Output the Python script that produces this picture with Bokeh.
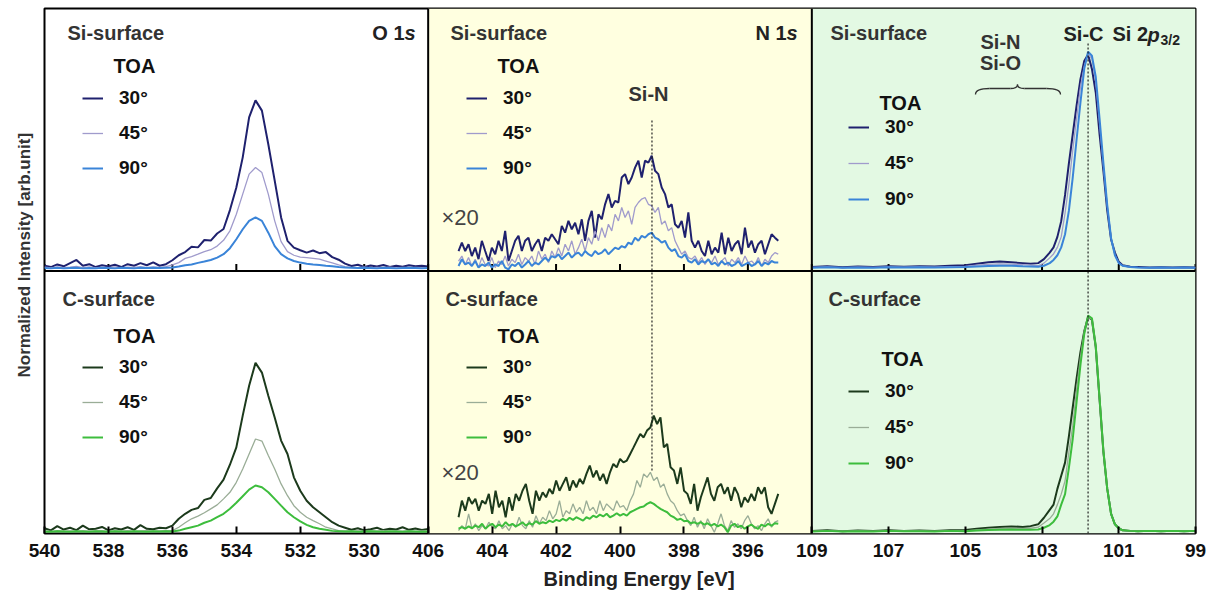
import math
import numpy as np
from bokeh.plotting import figure
from bokeh.models import (Range1d, FixedTicker, Span, BoxAnnotation, Label,
                          Legend, LegendItem, Title)
from bokeh.embed import file_html
from bokeh.resources import INLINE

# ---------------------------------------------------------------- data
TOA = ["30°", "45°", "90°"]

O1S_LIMITS = (540.0, 528.0)      # axis limits of each column (eV)
N1S_LIMITS = (406.0, 394.0)
SI2P_LIMITS = (109.0, 99.0)

O1S_SPAN = (540.0, 528.0)        # first / last measured energy
N1S_SPAN = (405.05, 395.05)

SI2P_E = [109.0, 108.6, 108.2, 107.8, 107.4, 107.0, 106.6, 106.2, 105.8, 105.4,
          105.0, 104.7, 104.4, 104.1, 103.8, 103.5, 103.3, 103.1, 102.95, 102.8,
          102.7, 102.6, 102.5, 102.4, 102.3, 102.2, 102.1, 102.0, 101.9, 101.8,
          101.7, 101.6, 101.5, 101.4, 101.3, 101.2, 101.1, 101.0, 100.9, 100.7,
          100.5, 100.2, 99.9, 99.6, 99.3, 99.0]

# O 1s, Si-surface
o1s_si_30 = [0.020, 0.015, 0.025, 0.018, 0.030, 0.042, 0.020, 0.026, 0.015, 0.022,
             0.017, 0.024, 0.015, 0.026, 0.020, 0.030, 0.022, 0.033, 0.020, 0.026,
             0.041, 0.060, 0.072, 0.092, 0.090, 0.118, 0.116, 0.143, 0.160, 0.232,
             0.318, 0.433, 0.585, 0.650, 0.611, 0.483, 0.344, 0.204, 0.115, 0.089,
             0.079, 0.070, 0.078, 0.068, 0.072, 0.053, 0.043, 0.028, 0.019, 0.024,
             0.015, 0.021, 0.017, 0.023, 0.015, 0.020, 0.016, 0.022, 0.018, 0.020, 0.017]
o1s_si_45 = [0.015, 0.012, 0.016, 0.013, 0.015, 0.018, 0.013, 0.016, 0.012, 0.015,
             0.013, 0.016, 0.012, 0.015, 0.014, 0.017, 0.013, 0.016, 0.014, 0.017,
             0.023, 0.032, 0.048, 0.055, 0.064, 0.074, 0.081, 0.095, 0.117, 0.153,
             0.216, 0.293, 0.369, 0.394, 0.375, 0.293, 0.191, 0.112, 0.074, 0.060,
             0.053, 0.051, 0.048, 0.045, 0.038, 0.031, 0.023, 0.017, 0.014,
             0.013, 0.015, 0.012, 0.014, 0.013, 0.015, 0.012, 0.014, 0.013, 0.014, 0.013, 0.012]
o1s_si_90 = [0.011, 0.010, 0.012, 0.010, 0.011, 0.012, 0.010, 0.011, 0.010, 0.012,
             0.011, 0.010, 0.012, 0.011, 0.010, 0.012, 0.011, 0.012, 0.011, 0.012,
             0.013, 0.017, 0.022, 0.025, 0.031, 0.036, 0.042, 0.051, 0.064, 0.087,
             0.121, 0.159, 0.191, 0.204, 0.191, 0.146, 0.095, 0.064, 0.048, 0.038,
             0.032, 0.028, 0.025, 0.023, 0.020, 0.018, 0.015, 0.013,
             0.012, 0.011, 0.012, 0.011, 0.010, 0.012, 0.011, 0.010, 0.011, 0.012, 0.011, 0.010, 0.011]

# O 1s, C-surface
o1s_c_30 = [0.020, 0.012, 0.028, 0.015, 0.022, 0.013, 0.030, 0.016, 0.018, 0.025,
            0.012, 0.020, 0.015, 0.024, 0.014, 0.032, 0.018, 0.016, 0.022, 0.020,
            0.030, 0.056, 0.075, 0.090, 0.097, 0.128, 0.135, 0.172, 0.205, 0.262,
            0.328, 0.449, 0.563, 0.650, 0.613, 0.525, 0.442, 0.354, 0.303, 0.214,
            0.163, 0.125, 0.100, 0.081, 0.062, 0.043, 0.030, 0.022,
            0.014, 0.020, 0.012, 0.016, 0.022, 0.013, 0.018, 0.015, 0.024, 0.014, 0.019, 0.013, 0.017]
o1s_c_45 = [0.010, 0.008, 0.011, 0.009, 0.010, 0.008, 0.011, 0.009, 0.010, 0.011,
            0.008, 0.010, 0.009, 0.011, 0.008, 0.010, 0.011, 0.009, 0.010, 0.011,
            0.011, 0.024, 0.041, 0.056, 0.066, 0.079, 0.094, 0.109, 0.132, 0.157,
            0.195, 0.246, 0.303, 0.360, 0.352, 0.297, 0.246, 0.189, 0.144, 0.106,
            0.081, 0.062, 0.049, 0.037, 0.024, 0.018, 0.011, 0.010,
            0.009, 0.010, 0.008, 0.010, 0.009, 0.011, 0.008, 0.010, 0.009, 0.010, 0.008, 0.010, 0.009]
o1s_c_90 = [0.008, 0.007, 0.009, 0.008, 0.007, 0.009, 0.008, 0.007, 0.009, 0.008,
            0.007, 0.009, 0.008, 0.007, 0.009, 0.008, 0.007, 0.009, 0.008, 0.009,
            0.008, 0.011, 0.018, 0.024, 0.030, 0.041, 0.049, 0.062, 0.075, 0.094,
            0.117, 0.142, 0.167, 0.183, 0.176, 0.157, 0.132, 0.106, 0.081, 0.062,
            0.046, 0.033, 0.024, 0.018, 0.014, 0.010,
            0.009, 0.008, 0.009, 0.007, 0.008, 0.009, 0.008, 0.007, 0.009, 0.008, 0.007, 0.009, 0.008, 0.007, 0.008]

# N 1s (x20), Si-surface
n1s_si_30 = [0.076, 0.108, 0.076, 0.102, 0.057, 0.089, 0.045, 0.115, 0.076, 0.038,
             0.089, 0.064, 0.115, 0.076, 0.153, 0.038, 0.076, 0.115, 0.134, 0.076,
             0.115, 0.127, 0.076, 0.102, 0.121, 0.076, 0.127, 0.115, 0.140, 0.121,
             0.102, 0.172, 0.146, 0.191, 0.159, 0.184, 0.140, 0.197, 0.115, 0.191,
             0.229, 0.127, 0.216, 0.197, 0.254, 0.293, 0.242, 0.267, 0.261, 0.356,
             0.369, 0.331, 0.356, 0.394, 0.420, 0.356, 0.420, 0.413, 0.439, 0.382,
             0.369, 0.318, 0.293, 0.242, 0.254, 0.178, 0.165, 0.191, 0.127, 0.223,
             0.115, 0.089, 0.115, 0.076, 0.057, 0.115, 0.064, 0.089, 0.070, 0.146,
             0.064, 0.127, 0.076, 0.102, 0.115, 0.064, 0.165, 0.089, 0.115, 0.070,
             0.102, 0.115, 0.064, 0.102, 0.140, 0.127, 0.115]
n1s_si_45 = [0.038, 0.057, 0.025, 0.051, 0.019, 0.045, 0.013, 0.051, 0.025, 0.019,
             0.051, 0.013, 0.038, 0.025, 0.057, 0.019, 0.045, 0.032, 0.064, 0.025,
             0.051, 0.038, 0.057, 0.025, 0.076, 0.045, 0.064, 0.032, 0.076, 0.051,
             0.089, 0.057, 0.102, 0.076, 0.115, 0.064, 0.089, 0.121, 0.076, 0.127,
             0.102, 0.153, 0.115, 0.165, 0.127, 0.178, 0.153, 0.216, 0.191, 0.242,
             0.204, 0.229, 0.178, 0.242, 0.261, 0.274, 0.280, 0.254, 0.248, 0.223,
             0.242, 0.178, 0.191, 0.153, 0.165, 0.115, 0.089, 0.064, 0.076, 0.051,
             0.045, 0.057, 0.032, 0.051, 0.025, 0.045, 0.032, 0.057, 0.025, 0.038,
             0.051, 0.019, 0.045, 0.032, 0.051, 0.025, 0.057, 0.032, 0.038, 0.025,
             0.051, 0.019, 0.045, 0.032, 0.057, 0.070, 0.064]
n1s_si_90 = [0.019, 0.045, 0.025, 0.032, 0.019, 0.038, 0.013, 0.025, 0.019, 0.032,
             0.013, 0.025, 0.019, 0.038, 0.013, 0.006, 0.025, 0.019, 0.032, 0.013,
             0.025, 0.038, 0.019, 0.032, 0.025, 0.038, 0.051, 0.038, 0.057, 0.051,
             0.064, 0.045, 0.057, 0.070, 0.051, 0.064, 0.070, 0.057, 0.076, 0.064,
             0.057, 0.076, 0.064, 0.070, 0.083, 0.064, 0.076, 0.089, 0.083, 0.095,
             0.089, 0.108, 0.102, 0.127, 0.115, 0.134, 0.127, 0.140, 0.146, 0.127,
             0.121, 0.108, 0.115, 0.089, 0.076, 0.083, 0.057, 0.051, 0.064, 0.038,
             0.032, 0.045, 0.025, 0.038, 0.032, 0.045, 0.025, 0.032, 0.019, 0.038,
             0.025, 0.032, 0.019, 0.025, 0.038, 0.019, 0.025, 0.032, 0.019, 0.025,
             0.038, 0.019, 0.032, 0.025, 0.038, 0.032, 0.032]

# N 1s (x20), C-surface
n1s_c_30 = [0.062, 0.125, 0.087, 0.138, 0.113, 0.132, 0.087, 0.125, 0.113, 0.151,
            0.075, 0.163, 0.100, 0.125, 0.062, 0.138, 0.087, 0.151, 0.125, 0.163,
            0.189, 0.125, 0.075, 0.163, 0.125, 0.157, 0.138, 0.170, 0.151, 0.202,
            0.163, 0.189, 0.214, 0.163, 0.202, 0.176, 0.208, 0.189, 0.227, 0.259,
            0.214, 0.240, 0.202, 0.227, 0.189, 0.233, 0.265, 0.252, 0.284, 0.271,
            0.278, 0.303, 0.328, 0.354, 0.379, 0.366, 0.392, 0.404, 0.449, 0.417,
            0.442, 0.328, 0.341, 0.252, 0.240, 0.189, 0.252, 0.163, 0.151, 0.113,
            0.189, 0.087, 0.138, 0.176, 0.214, 0.151, 0.125, 0.176, 0.189, 0.151,
            0.176, 0.125, 0.176, 0.151, 0.100, 0.138, 0.119, 0.151, 0.125, 0.176,
            0.151, 0.176, 0.100, 0.075, 0.113, 0.151]
n1s_c_45 = [0.011, 0.030, 0.018, 0.075, 0.018, 0.037, 0.011, 0.030, 0.018, 0.043,
            0.024, 0.018, 0.049, 0.018, 0.030, 0.011, 0.037, 0.024, 0.062, 0.030,
            0.018, 0.049, 0.024, 0.068, 0.037, 0.062, 0.049, 0.087, 0.056, 0.075,
            0.125, 0.062, 0.087, 0.075, 0.113, 0.081, 0.100, 0.075, 0.125, 0.087,
            0.100, 0.075, 0.125, 0.087, 0.113, 0.100, 0.087, 0.125, 0.100, 0.106,
            0.087, 0.125, 0.151, 0.202, 0.176, 0.227, 0.214, 0.233, 0.202, 0.214,
            0.176, 0.189, 0.151, 0.125, 0.113, 0.087, 0.068, 0.075, 0.049, 0.030,
            0.062, 0.024, 0.049, 0.018, 0.056, 0.030, 0.005, 0.037, 0.075, 0.030,
            0.011, 0.049, 0.024, 0.037, 0.018, 0.049, 0.068, 0.037, 0.018, 0.030,
            0.011, 0.037, 0.056, 0.024, 0.043, 0.049]
n1s_c_90 = [0.018, 0.024, 0.018, 0.027, 0.020, 0.030, 0.024, 0.037, 0.018, 0.030,
            0.037, 0.024, 0.034, 0.027, 0.043, 0.030, 0.037, 0.027, 0.034, 0.043,
            0.030, 0.039, 0.034, 0.047, 0.037, 0.043, 0.039, 0.049, 0.043, 0.052,
            0.047, 0.056, 0.049, 0.060, 0.052, 0.062, 0.056, 0.049, 0.062, 0.056,
            0.068, 0.062, 0.072, 0.065, 0.075, 0.062, 0.068, 0.077, 0.068, 0.075,
            0.068, 0.081, 0.087, 0.094, 0.100, 0.103, 0.113, 0.119, 0.113, 0.103,
            0.094, 0.087, 0.081, 0.068, 0.062, 0.052, 0.056, 0.047, 0.049, 0.039,
            0.043, 0.037, 0.043, 0.034, 0.039, 0.030, 0.037, 0.027, 0.034, 0.024,
            0.005, 0.030, 0.037, 0.024, 0.030, 0.018, 0.027, 0.034, 0.024, 0.018,
            0.034, 0.027, 0.037, 0.030, 0.039, 0.037]

# Si 2p3/2, Si-surface
si2p_si_30 = [0.015, 0.018, 0.014, 0.017, 0.015, 0.018, 0.016, 0.018, 0.017, 0.020,
              0.022, 0.028, 0.033, 0.036, 0.033, 0.030, 0.028, 0.030, 0.045, 0.070,
              0.090, 0.130, 0.190, 0.290, 0.410, 0.520, 0.630, 0.730, 0.800, 0.825,
              0.770, 0.680, 0.520, 0.380, 0.230, 0.120, 0.070, 0.035, 0.022, 0.016,
              0.015, 0.013, 0.014, 0.013, 0.014, 0.013]
si2p_si_45 = [0.014, 0.016, 0.013, 0.015, 0.014, 0.016, 0.015, 0.016, 0.015, 0.017,
              0.018, 0.022, 0.025, 0.027, 0.026, 0.024, 0.022, 0.020, 0.030, 0.050,
              0.065, 0.090, 0.130, 0.220, 0.330, 0.460, 0.580, 0.700, 0.780, 0.825,
              0.810, 0.720, 0.560, 0.400, 0.250, 0.125, 0.060, 0.030, 0.020, 0.015,
              0.013, 0.013, 0.012, 0.013, 0.012, 0.013]
si2p_si_90 = [0.012, 0.014, 0.012, 0.013, 0.012, 0.014, 0.013, 0.014, 0.013, 0.014,
              0.015, 0.017, 0.019, 0.020, 0.020, 0.018, 0.017, 0.016, 0.020, 0.030,
              0.042, 0.060, 0.090, 0.140, 0.230, 0.356, 0.500, 0.640, 0.770, 0.835,
              0.820, 0.740, 0.580, 0.410, 0.250, 0.125, 0.060, 0.030, 0.020, 0.015,
              0.013, 0.012, 0.013, 0.012, 0.013, 0.012]

# Si 2p3/2, C-surface
si2p_c_30 = [0.010, 0.012, 0.009, 0.011, 0.010, 0.012, 0.010, 0.011, 0.010, 0.012,
             0.013, 0.018, 0.022, 0.025, 0.027, 0.025, 0.028, 0.035, 0.060, 0.090,
             0.110, 0.170, 0.220, 0.270, 0.370, 0.480, 0.590, 0.690, 0.770, 0.825,
             0.815, 0.710, 0.510, 0.310, 0.170, 0.075, 0.035, 0.020, 0.012, 0.010,
             0.009, 0.010, 0.009, 0.010, 0.009, 0.010]
si2p_c_45 = [0.009, 0.011, 0.009, 0.010, 0.009, 0.011, 0.010, 0.010, 0.009, 0.011,
             0.010, 0.014, 0.017, 0.019, 0.020, 0.019, 0.020, 0.024, 0.040, 0.057,
             0.075, 0.110, 0.150, 0.200, 0.310, 0.410, 0.550, 0.670, 0.770, 0.825,
             0.815, 0.710, 0.510, 0.310, 0.170, 0.075, 0.035, 0.020, 0.012, 0.010,
             0.009, 0.010, 0.009, 0.010, 0.009, 0.010]
si2p_c_90 = [0.008, 0.010, 0.008, 0.009, 0.008, 0.010, 0.009, 0.009, 0.008, 0.010,
             0.009, 0.011, 0.013, 0.014, 0.015, 0.014, 0.014, 0.015, 0.022, 0.032,
             0.045, 0.065, 0.110, 0.150, 0.250, 0.360, 0.500, 0.640, 0.760, 0.830,
             0.820, 0.715, 0.515, 0.315, 0.170, 0.075, 0.035, 0.020, 0.012, 0.010,
             0.009, 0.010, 0.009, 0.010, 0.009, 0.010]

TICKS_O1S = [540, 538, 536, 534, 532, 530]
TICKS_N1S = [406, 404, 402, 400, 398, 396]
TICKS_SI2P = [109, 107, 105, 103, 101, 99]

SI_N_PEAK = 399.0     # eV, dotted marker in N 1s
SI_C_PEAK = 101.8     # eV, dotted marker in Si 2p

# ---------------------------------------------------------------- style
FONT = "Liberation Sans"
SI_COLORS = ["#1f216e", "#a09bcc", "#3a84d8"]
C_COLORS = ["#1c3a1c", "#9aad97", "#3dbd3d"]
WIDTHS = [2.0, 1.3, 2.0]

W, H = 1214, 604
BL, BT = 44, 8
FW, FH = 1151, 525
BR, BB = W - BL - FW, H - BT - FH
FL, FT = BL, BT
FB = FT + FH


def col_range(k, limits):
    hi, lo = limits
    span = hi - lo
    return Range1d(start=hi + k * span, end=lo - (2 - k) * span)


ranges = {"o": col_range(0, O1S_LIMITS), "n": col_range(1, N1S_LIMITS),
          "si": col_range(2, SI2P_LIMITS)}

p = figure(width=W, height=H, output_backend="svg", toolbar_location=None,
           x_range=Range1d(0, 3), y_range=Range1d(0, 2), y_axis_location=None,
           min_border_left=BL, min_border_right=BR, min_border_top=BT,
           min_border_bottom=BB)
p.extra_x_ranges = ranges
p.extra_y_ranges = {"top": Range1d(-1, 1)}
p.grid.visible = False
p.outline_line_color = "black"
p.outline_line_width = 2
p.background_fill_color = "white"
p.border_fill_color = "white"


def ydef(py):
    return (FB - py) / FH * 2.0


def xdata(name, px):
    r = ranges[name]
    return r.start + (px - FL) / FW * (r.end - r.start)


# column backgrounds
p.add_layout(BoxAnnotation(left=1, right=2, fill_color="#ffffe0", fill_alpha=1,
                           line_alpha=0, level="underlay"))
p.add_layout(BoxAnnotation(left=2, right=3, fill_color="#e3f9e3", fill_alpha=1,
                           line_alpha=0, level="underlay"))

# ticks (bottom axis, labels from energies)
tick_pos, tick_lab = [], []
for k, (lim, ticks) in enumerate([(O1S_LIMITS, TICKS_O1S), (N1S_LIMITS, TICKS_N1S),
                                  (SI2P_LIMITS, TICKS_SI2P)]):
    hi, lo = lim
    for e in ticks:
        tick_pos.append(k + (hi - e) / (hi - lo))
        tick_lab.append(str(e))
ax = p.xaxis[0]
ax.ticker = FixedTicker(ticks=tick_pos)
ax.major_label_overrides = {t: l for t, l in zip(tick_pos, tick_lab)}
ax.major_label_text_font = FONT
ax.major_label_text_font_style = "bold"
ax.major_label_text_font_size = "19px"
ax.major_label_text_color = "#111111"
ax.major_label_standoff = 10
ax.major_tick_in = 7
ax.major_tick_out = 0
ax.major_tick_line_width = 2
ax.minor_tick_line_color = None
ax.axis_line_color = None

# inner ticks on the bottom edge of the upper row
p.ray(x=tick_pos, y=[1] * len(tick_pos), length=7, length_units="screen",
      angle=math.pi / 2, line_color="black", line_width=2)

# spectra
panels = [
    ("o", "top", np.linspace(*O1S_SPAN, len(o1s_si_30)), [o1s_si_30, o1s_si_45, o1s_si_90], SI_COLORS),
    ("o", "default", np.linspace(*O1S_SPAN, len(o1s_c_30)), [o1s_c_30, o1s_c_45, o1s_c_90], C_COLORS),
    ("n", "top", None, [n1s_si_30, n1s_si_45, n1s_si_90], SI_COLORS),
    ("n", "default", None, [n1s_c_30, n1s_c_45, n1s_c_90], C_COLORS),
    ("si", "top", SI2P_E, [si2p_si_30, si2p_si_45, si2p_si_90], SI_COLORS),
    ("si", "default", SI2P_E, [si2p_c_30, si2p_c_45, si2p_c_90], C_COLORS),
]
panel_renderers = []
for xr, yr, energies, series, colors in panels:
    rs = []
    for ys, c, w in zip(series, colors, WIDTHS):
        xs = energies if energies is not None else np.linspace(*N1S_SPAN, len(ys))
        rs.append(p.line(list(xs), ys, x_range_name=xr, y_range_name=yr,
                         line_color=c, line_width=w))
    panel_renderers.append(rs)

# panel separators
p.add_layout(Span(location=1, dimension="height", line_color="black", line_width=2))
p.add_layout(Span(location=2, dimension="height", line_color="black", line_width=2))
p.add_layout(Span(location=1, dimension="width", line_color="black", line_width=2))

# dotted markers
p.segment(x0=[SI_N_PEAK], y0=[ydef(470)], x1=[SI_N_PEAK], y1=[ydef(118)],
          x_range_name="n", line_color="#222222", line_width=1.2, line_dash="2 2")
p.segment(x0=[SI_C_PEAK], y0=[0], x1=[SI_C_PEAK], y1=[ydef(43)],
          x_range_name="si", line_color="#222222", line_width=1.2, line_dash="2 2")

# curly brace under "Si-N / Si-O"
bx0, bx1, bxm, by_body, by_end, by_tip = 975, 1060, 1017, 88, 94, 84
segs = [((bx0, by_end), (bx0 + 14, by_body), (bx0, by_body)),
        ((bx0 + 14, by_body), (bxm - 7, by_body), (bxm - 20, by_body)),
        ((bxm - 7, by_body), (bxm, by_tip), (bxm, by_body)),
        ((bxm, by_tip), (bxm + 7, by_body), (bxm, by_body)),
        ((bxm + 7, by_body), (bx1 - 14, by_body), (bxm + 20, by_body)),
        ((bx1 - 14, by_body), (bx1, by_end), (bx1, by_body))]
p.quadratic(x0=[xdata("si", s[0][0]) for s in segs], y0=[ydef(s[0][1]) - 1 for s in segs],
            x1=[xdata("si", s[1][0]) for s in segs], y1=[ydef(s[1][1]) - 1 for s in segs],
            cx=[xdata("si", s[2][0]) for s in segs], cy=[ydef(s[2][1]) - 1 for s in segs],
            x_range_name="si", y_range_name="top", line_color="#333333", line_width=1.3)


def text(txt, px, py, size=20, style="bold", color="#333333", align="left", angle=0.0):
    p.add_layout(Label(x=px - FL, y=FB - py, x_units="screen", y_units="screen",
                       text=txt, text_font=FONT, text_font_size=f"{size}px",
                       text_font_style=style, text_color=color, text_align=align,
                       text_baseline="middle", angle=angle))


def legend(renderers, px, py_first, spacing):
    rowh = 22
    n = len(renderers)
    lh = n * rowh + (n - 1) * spacing
    top = py_first - rowh / 2
    leg = Legend(items=[LegendItem(label=l, renderers=[r]) for l, r in zip(TOA, renderers)],
                 location=(px - FL, FB - (top + lh)), orientation="vertical",
                 padding=0, margin=0, spacing=spacing, glyph_width=21,
                 glyph_height=rowh, label_height=rowh, label_standoff=16,
                 label_text_font=FONT, label_text_font_style="bold",
                 label_text_font_size="19px", label_text_color="#111111",
                 border_line_alpha=0, background_fill_alpha=0)
    p.add_layout(leg, "center")


# surface titles, TOA headers and legends
for (sx, sy, name, tx, ty, lx, ly, sp), rs in zip([
        (67, 32, "Si-surface", 113, 65, 82, 98, 13),
        (62, 298, "C-surface", 113, 335, 82, 367, 13),
        (450, 32, "Si-surface", 497, 65, 466, 98, 13),
        (445, 298, "C-surface", 497, 335, 466, 367, 13),
        (830, 32, "Si-surface", 879, 102, 848, 127, 14),
        (828, 298, "C-surface", 881, 358, 848, 391, 14)], panel_renderers):
    text(name, sx, sy)
    text("TOA", tx, ty, size=20, color="#111111")
    legend(rs, lx, ly, sp)

# core-level names
text("s", 415, 32, style="bold italic", color="#222222", align="right")
text("O 1", 404, 32, color="#222222", align="right")
text("s", 797, 32, style="bold italic", color="#222222", align="right")
text("N 1", 786, 32, color="#222222", align="right")
text("Si-C", 1063, 33, color="#222222")
text("Si 2", 1112, 33, color="#222222")
text("p", 1147, 34, style="bold italic", color="#222222")
text("3/2", 1160, 39, size=14, color="#222222")

# chemical-state annotations
text("Si-N", 648, 93, align="center")
text("Si-N", 1000, 41, align="center")
text("Si-O", 1000, 62, align="center")
text("×20", 441, 217, size=22, style="normal", color="#444444")
text("×20", 441, 472, size=22, style="normal", color="#444444")

# axis titles (side-panel titles, positioned along the frame with an offset)
p.add_layout(Title(text="Normalized Intensity [arb.unit]", align="left", offset=FB - 377,
                   vertical_align="middle", text_font=FONT, text_font_size="17px",
                   text_font_style="bold", text_color="#333333", standoff=20), "left")
p.add_layout(Title(text="Binding Energy [eV]", align="left", offset=543 - FL,
                   vertical_align="bottom", text_font=FONT, text_font_size="20px",
                   text_font_style="bold", text_color="#222222", standoff=12), "below")

open("out.html", "w").write(file_html(p, INLINE))
